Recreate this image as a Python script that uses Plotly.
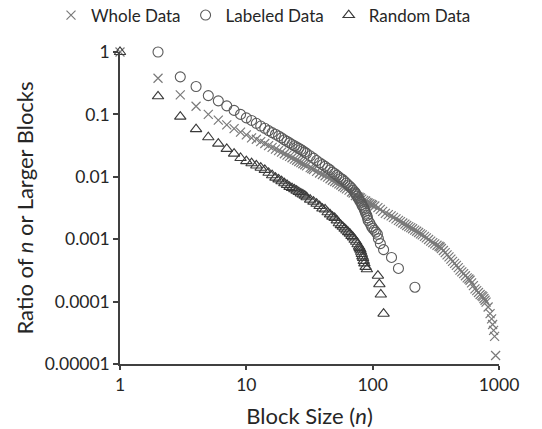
import plotly.graph_objects as go

# ---- data ----
whole_n = [1, 2, 3, 4, 5, 6, 7, 8, 9, 10, 11, 12, 13, 14, 15, 16, 17, 18, 19, 20,
           21, 22, 23, 24, 25, 26, 27, 28, 29, 30, 32, 33, 34, 36, 38, 40, 42, 44, 46, 48,
           50, 52, 54, 56, 58, 60, 62, 65, 68, 70, 73, 76, 78, 80, 82, 85, 88, 90, 92, 95,
           98, 100, 104, 110, 115, 120, 126,
           133, 140, 146, 153, 160, 166, 173, 180, 186, 193, 200, 207, 215, 223, 231, 239, 247,
           257, 266, 277, 288, 299, 310, 323, 335, 342, 350, 363, 375, 388, 402, 416, 429, 445,
           460, 476, 491, 508, 525, 542, 560, 578, 590, 607, 627, 645, 666, 688, 709, 731, 745,
           760, 775, 790, 820, 850, 874, 890, 906, 923, 940]
whole_v = [1.0, 0.38, 0.205, 0.135, 0.100, 0.081, 0.068, 0.059, 0.052, 0.047, 0.042, 0.040, 0.0367,
           0.0342, 0.0316, 0.0296, 0.0278, 0.0262, 0.0248, 0.0234,
           0.0223, 0.0212, 0.0202, 0.0192, 0.0184, 0.0176, 0.0169, 0.0162, 0.0156, 0.0150,
           0.0140, 0.0136, 0.0131, 0.0122, 0.0115, 0.0109, 0.0104, 0.0099, 0.0093, 0.0088,
           0.0084, 0.0081, 0.0077, 0.0074, 0.0070, 0.0067, 0.0064, 0.0061, 0.0057, 0.0055,
           0.0050, 0.0048, 0.0047, 0.0046, 0.0044, 0.0042, 0.0041, 0.0039, 0.0038, 0.0037,
           0.0036, 0.0035, 0.0034, 0.0032, 0.0030, 0.0028, 0.0026,
           0.00248, 0.00236, 0.00224, 0.00212, 0.0020, 0.00191, 0.00182, 0.00174, 0.00166,
           0.00159, 0.00153, 0.00147, 0.00140, 0.00134, 0.00128, 0.00122, 0.00117,
           0.00111, 0.00105, 0.00099, 0.00093, 0.00088, 0.00084, 0.00080, 0.00077, 0.00075,
           0.00071, 0.00066, 0.00061, 0.00056, 0.00052, 0.00048, 0.00044, 0.00041,
           0.00038, 0.00035, 0.00032, 0.00030, 0.00028, 0.00026, 0.00024, 0.00023, 0.00022,
           0.00020, 0.00018, 0.00016, 0.00015, 0.00014, 0.00013, 0.000125, 0.00012,
           0.000112, 0.000105, 0.000098, 0.000082, 0.000064, 0.000053, 0.000043, 0.0000345,
           0.0000277, 0.0000137]

labeled_n = [2, 3, 4, 5, 6, 7, 8, 9, 10, 11, 12, 13, 14, 15, 16, 17, 18, 19, 20,
             21, 22, 23, 24, 25, 26, 27, 28, 29, 30, 32, 34, 36, 38, 40, 42, 44, 46, 48,
             50, 52, 54, 56, 58, 60, 62, 64, 66, 68, 70, 72, 73,
             74, 75, 77, 78, 79, 81, 82, 83, 85, 86, 87, 88, 90, 91, 92, 95, 98, 100, 103, 106, 109,
             111, 115, 122, 141, 160, 216]
labeled_v = [1.0, 0.40, 0.28, 0.20, 0.165, 0.137, 0.116, 0.100, 0.088, 0.080, 0.072, 0.065, 0.060,
             0.055, 0.051, 0.048, 0.045, 0.042, 0.039,
             0.037, 0.035, 0.033, 0.0315, 0.030, 0.0287, 0.0274, 0.0261, 0.0249, 0.0238,
             0.0217, 0.0199, 0.0182, 0.0168, 0.0157, 0.0147, 0.0137, 0.0129, 0.0119,
             0.0113, 0.0106, 0.0100, 0.0094, 0.0090, 0.0084, 0.0079, 0.0074, 0.0070, 0.0066,
             0.0061, 0.0057, 0.0055,
             0.0052, 0.0049, 0.0046, 0.0044, 0.0041, 0.0039, 0.0036, 0.0034, 0.0032, 0.0030,
             0.0028, 0.0026, 0.0024, 0.0022, 0.0020, 0.0018, 0.0016, 0.0015, 0.0014, 0.0013,
             0.0012, 0.00102, 0.00085, 0.00068, 0.00051, 0.00034, 0.00017]

random_n = [1, 2, 3, 4, 5, 6, 7, 8, 9, 10, 11, 12, 13, 14, 15, 16, 17, 18, 19, 20,
            21, 22, 23, 24, 25, 26, 27, 28, 29, 30, 32, 34, 36, 38, 40, 42, 44, 46, 48,
            50, 52, 54, 56, 58, 60, 62, 64, 66, 68, 70, 72, 74, 76, 78, 79, 80, 81, 82, 83,
            84, 85, 86, 88, 90,
            110, 113, 116, 122]
random_v = [1.0, 0.195, 0.092, 0.058, 0.043, 0.034, 0.028, 0.0235, 0.0200, 0.0178,
            0.0165, 0.0152, 0.0140, 0.0129, 0.0116, 0.0106, 0.0097, 0.0091, 0.0085, 0.0079,
            0.0074, 0.0069, 0.0066, 0.0063, 0.0060, 0.0057, 0.0054, 0.0052, 0.0050, 0.0047,
            0.0043, 0.0040, 0.0037, 0.0034, 0.0031, 0.0030, 0.0027, 0.0025, 0.0023,
            0.0022, 0.0020, 0.0018, 0.00168, 0.00158, 0.00148, 0.00138, 0.00130, 0.00123, 0.00113,
            0.00107, 0.00098, 0.00091, 0.00083, 0.00076, 0.00072, 0.00068, 0.00063, 0.00058, 0.00053,
            0.00050, 0.00045, 0.00041, 0.00036, 0.00033,
            0.00026, 0.00019, 0.00013, 0.000064]

x_tickvals = [1, 10, 100, 1000]
x_ticktext = ["1", "10", "100", "1000"]
y_tickvals = [1, 0.1, 0.01, 0.001, 0.0001, 0.00001]
y_ticktext = ["1", "0.1", "0.01", "0.001", "0.0001", "0.00001"]

FONT = "Lato, 'Open Sans', sans-serif"
AX = "#404040"
TXT = "#262626"

L, R, T, B = 120, 43, 52, 65
W, H = 542, 429
PW, PH = W - L - R, H - T - B

fig = go.Figure()
fig.add_trace(go.Scatter(x=whole_n, y=whole_v, mode="markers", name="Whole Data", cliponaxis=False,
                         marker=dict(symbol="x-thin-open", size=9, color="#7a7a7a",
                                     line=dict(color="#7a7a7a", width=1.2))))
fig.add_trace(go.Scatter(x=labeled_n, y=labeled_v, mode="markers", name="Labeled Data", cliponaxis=False,
                         marker=dict(symbol="circle-open", size=10, color="#5a5a5a",
                                     line=dict(color="#5a5a5a", width=1.1))))
fig.add_trace(go.Scatter(x=random_n, y=random_v, mode="markers", name="Random Data", cliponaxis=False,
                         marker=dict(symbol="triangle-up-open", size=10, color="#3a3a3a",
                                     line=dict(color="#3a3a3a", width=1.1))))

fig.update_layout(
    width=W, height=H,
    margin=dict(l=L, r=R, t=T, b=B, autoexpand=False),
    paper_bgcolor="white", plot_bgcolor="white",
    font=dict(family=FONT, size=17, color=TXT),
    showlegend=True,
    legend=dict(orientation="h", xref="paper", yref="paper",
                x=(51 - L) / PW, xanchor="left",
                y=1 + (T + 2.5) / PH, yanchor="top",
                font=dict(size=17, color=TXT),
                bgcolor="rgba(0,0,0,0)", itemwidth=30),
    xaxis=dict(type="log", range=[0, 3], showgrid=False, zeroline=False, automargin=False,
               showline=True, linecolor=AX, linewidth=1.5,
               ticks="outside", ticklen=4, tickwidth=1.5, tickcolor=AX,
               tickvals=x_tickvals, ticktext=x_ticktext,
               tickfont=dict(size=17.5, color=TXT),
               title=dict(text="Block Size (<i>n</i>)", font=dict(size=22, color=TXT), standoff=15)),
    xaxis2=dict(type="log", range=[0, 3], overlaying="x", anchor="y", side="bottom",
                showgrid=False, zeroline=False, showline=False, automargin=False,
                ticks="inside", ticklen=4, tickwidth=1.5, tickcolor=AX,
                tickvals=x_tickvals, showticklabels=False),
    yaxis=dict(type="log", range=[-5, 0], showgrid=False, zeroline=False, automargin=False,
               showline=True, linecolor=AX, linewidth=1.5,
               ticks="outside", ticklen=5, tickwidth=1.5, tickcolor=AX,
               tickvals=y_tickvals, ticktext=y_ticktext,
               tickfont=dict(size=17.5, color=TXT),
               title=dict(text="Ratio of <i>n</i> or Larger Blocks", font=dict(size=22, color=TXT),
                          standoff=5)),
)

fig.write_html("out.html", config={"displayModeBar": False},
               post_script="document.body.style.margin='0px';")
